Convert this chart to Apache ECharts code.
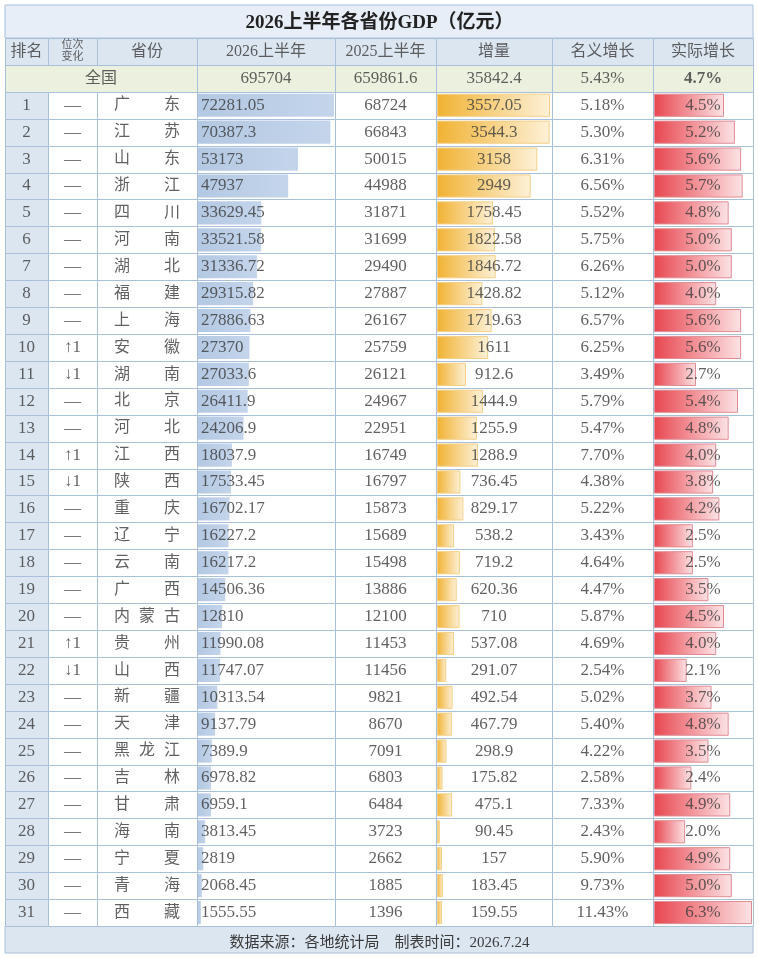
<!DOCTYPE html>
<html>
<head>
<meta charset="utf-8">
<title>2026上半年各省份GDP（亿元）</title>
<script src="https://cdn.jsdelivr.net/npm/echarts@6/dist/echarts.min.js"></script>
<style>
    html, body { margin: 0; padding: 0; background: #fff; }
    #main { width: 759px; height: 959px; }
</style>
</head>
<body>
<div id="main"></div>
<script>
    // ---- 数据 ----
    var headers = ['排名', '位次\n变化', '省份', '2026上半年', '2025上半年', '增量', '名义增长', '实际增长'];
    var ranks = [1, 2, 3, 4, 5, 6, 7, 8, 9, 10, 11, 12, 13, 14, 15, 16, 17, 18, 19, 20, 21, 22, 23, 24, 25, 26, 27, 28, 29, 30, 31];
    var changes = ['—', '—', '—', '—', '—', '—', '—', '—', '—', '↑1', '↓1', '—', '—', '↑1', '↓1', '—',
        '—', '—', '—', '—', '↑1', '↓1', '—', '—', '—', '—', '—', '—', '—', '—', '—'];
    var provinces = ['广东', '江苏', '山东', '浙江', '四川', '河南', '湖北', '福建', '上海', '安徽', '湖南', '北京',
        '河北', '江西', '陕西', '重庆', '辽宁', '云南', '广西', '内蒙古', '贵州', '山西', '新疆', '天津',
        '黑龙江', '吉林', '甘肃', '海南', '宁夏', '青海', '西藏'];
    var gdp2026 = [72281.05, 70387.3, 53173, 47937, 33629.45, 33521.58, 31336.72, 29315.82, 27886.63, 27370,
        27033.6, 26411.9, 24206.9, 18037.9, 17533.45, 16702.17, 16227.2, 16217.2, 14506.36, 12810, 11990.08,
        11747.07, 10313.54, 9137.79, 7389.9, 6978.82, 6959.1, 3813.45, 2819, 2068.45, 1555.55];
    var gdp2025 = [68724, 66843, 50015, 44988, 31871, 31699, 29490, 27887, 26167, 25759, 26121, 24967, 22951,
        16749, 16797, 15873, 15689, 15498, 13886, 12100, 11453, 11456, 9821, 8670, 7091, 6803, 6484, 3723,
        2662, 1885, 1396];
    var increase = [3557.05, 3544.3, 3158, 2949, 1758.45, 1822.58, 1846.72, 1428.82, 1719.63, 1611, 912.6,
        1444.9, 1255.9, 1288.9, 736.45, 829.17, 538.2, 719.2, 620.36, 710, 537.08, 291.07, 492.54, 467.79,
        298.9, 175.82, 475.1, 90.45, 157, 183.45, 159.55];
    var nominalGrowth = [5.18, 5.30, 6.31, 6.56, 5.52, 5.75, 6.26, 5.12, 6.57, 6.25, 3.49, 5.79, 5.47, 7.70,
        4.38, 5.22, 3.43, 4.64, 4.47, 5.87, 4.69, 2.54, 5.02, 5.40, 4.22, 2.58, 7.33, 2.43, 5.90, 9.73, 11.43];
    var realGrowth = [4.5, 5.2, 5.6, 5.7, 4.8, 5.0, 5.0, 4.0, 5.6, 5.6, 2.7, 5.4, 4.8, 4.0, 3.8, 4.2, 2.5, 2.5,
        3.5, 4.5, 4.0, 2.1, 3.7, 4.8, 3.5, 2.4, 4.9, 2.0, 4.9, 5.0, 6.3];
    var nationLabel = '全国';
    var nationValues = [695704, 659861.6, 35842.4, 5.43, 4.7];

    // ---- 版式 ----
    var FONT = '"Liberation Serif", "Noto Sans CJK SC", serif';
    var LINE = '#a9c0db';
    var TXT = '#3a3a3a';
    var colEdges = [0, 43, 92, 192, 330, 431, 547, 648, 748]; // 相对表格左边 5px
    var fills = ['#ffffff', '#dce6f1', '#ebf1de'];
    var rowKeys = ['header', 'nation'].concat(ranks.map(String));
    var T_TOP = 38, T_H = 888;

    function center(c) { return (colEdges[c] + colEdges[c + 1]) / 2; }

    // 单元格
    var cells = [];
    rowKeys.forEach(function (k, r) {
        if (r === 1) {
            cells.push([colEdges[0], colEdges[3], r, 2]);
            for (var c = 3; c < 8; c++) cells.push([colEdges[c], colEdges[c + 1], r, 2]);
        } else {
            for (var c2 = 0; c2 < 8; c2++) {
                cells.push([colEdges[c2], colEdges[c2 + 1], r, (r === 0 || c2 === 0) ? 1 : 0]);
            }
        }
    });

    // 文字
    var texts = [];
    function addText(x, r, s, extra) {
        var it = { value: [x, r], name: String(s) };
        if (extra) it.label = extra;
        texts.push(it);
    }
    headers.forEach(function (h, c) {
        addText(center(c), 0, h, c === 1 ? { fontSize: 11, lineHeight: 12 } : { fontSize: 16 });
    });
    addText((colEdges[0] + colEdges[3]) / 2, 1, nationLabel, { fontSize: 16 });
    nationValues.forEach(function (v, i) {
        var s = i === 3 ? v.toFixed(2) + '%' : (i === 4 ? v.toFixed(1) + '%' : v);
        addText(center(i + 3), 1, s, i === 4 ? { fontWeight: 'bold' } : null);
    });
    ranks.forEach(function (rk, i) {
        var r = i + 2;
        addText(center(0), r, rk);
        addText(center(1), r, changes[i]);
        var chars = provinces[i].split('');
        var pos = chars.length === 2 ? [0.25, 0.75] : [0.25, 0.5, 0.75];
        chars.forEach(function (ch, j) {
            addText(colEdges[2] + (colEdges[3] - colEdges[2]) * pos[j], r, ch, { fontSize: 16 });
        });
        addText(colEdges[3] + 4, r, gdp2026[i], { align: 'left' });
        addText(center(4), r, gdp2025[i]);
        addText(center(5), r, increase[i]);
        addText(center(6), r, nominalGrowth[i].toFixed(2) + '%');
        addText(center(7), r, realGrowth[i].toFixed(1) + '%');
    });

    function pad(arr) { return ['-', '-'].concat(arr); }
    function hGrad(a, b) {
        return new echarts.graphic.LinearGradient(0, 0, 1, 0, [{ offset: 0, color: a }, { offset: 1, color: b }]);
    }
    function catAxis(g) {
        return { type: 'category', gridIndex: g, data: rowKeys, inverse: true, show: false };
    }
    function valAxis(g, max) {
        return { type: 'value', gridIndex: g, min: 0, max: max, show: false };
    }

    var myChart = echarts.init(document.getElementById('main'));

    myChart.setOption({
        animation: false,
        title: [{
            text: '2026上半年各省份GDP（亿元）',
            left: 'center', top: 9,
            textStyle: { fontFamily: FONT, fontSize: 19, fontWeight: 'bold', color: '#222' }
        }, {
            text: '数据来源：各地统计局    制表时间：2026.7.24',
            left: 'center', top: 931,
            textStyle: { fontFamily: FONT, fontSize: 15, fontWeight: 'normal', color: TXT }
        }],
        graphic: [{
            type: 'rect', z: 0,
            shape: { x: 5, y: 5, width: 748, height: 33 },
            style: { fill: '#e8eef7', stroke: LINE, lineWidth: 1 }
        }, {
            type: 'rect', z: 0,
            shape: { x: 5, y: 926, width: 748, height: 27 },
            style: { fill: '#dce6f1', stroke: LINE, lineWidth: 1 }
        }],
        grid: [
            { left: 5, top: T_TOP, width: 748, height: T_H },
            { left: 198, top: T_TOP, width: 136, height: T_H },
            { left: 437, top: T_TOP, width: 113, height: T_H },
            { left: 654, top: T_TOP, width: 98, height: T_H }
        ],
        xAxis: [
            valAxis(0, 748),
            valAxis(1, Math.max.apply(null, gdp2026)),
            valAxis(2, Math.max.apply(null, increase)),
            valAxis(3, Math.max.apply(null, realGrowth))
        ],
        yAxis: [catAxis(0), catAxis(1), catAxis(2), catAxis(3)],
        series: [{
            name: 'cells', type: 'custom', xAxisIndex: 0, yAxisIndex: 0, z: 1, silent: true,
            data: cells,
            encode: { x: [0, 1], y: 2 },
            renderItem: function (params, api) {
                var p0 = api.coord([api.value(0), api.value(2)]);
                var p1 = api.coord([api.value(1), api.value(2)]);
                var h = api.size([0, 1])[1];
                return {
                    type: 'rect',
                    shape: { x: Math.round(p0[0]) + 0.5, y: Math.round(p0[1] - h / 2) + 0.5,
                        width: Math.round(p1[0] - p0[0]), height: Math.round(h) },
                    style: { fill: fills[api.value(3)], stroke: LINE, lineWidth: 1 }
                };
            }
        }, {
            name: '2026上半年', type: 'bar', xAxisIndex: 1, yAxisIndex: 1, z: 2,
            data: pad(gdp2026), barCategoryGap: '14%',
            itemStyle: { color: hGrad('#b3c8e2', '#c4d5eb') }
        }, {
            name: '增量', type: 'bar', xAxisIndex: 2, yAxisIndex: 2, z: 2,
            data: pad(increase), barCategoryGap: '14%',
            itemStyle: { color: hGrad('#f1b233', '#fdf1d8'), borderColor: '#f3cf86', borderWidth: 1 }
        }, {
            name: '实际增长', type: 'bar', xAxisIndex: 3, yAxisIndex: 3, z: 2,
            data: pad(realGrowth), barCategoryGap: '14%',
            itemStyle: { color: hGrad('#e8464f', '#fce3e5'), borderColor: '#de8c96', borderWidth: 1 }
        }, {
            name: 'texts', type: 'scatter', xAxisIndex: 0, yAxisIndex: 0, z: 5, silent: true,
            symbolSize: 1, itemStyle: { color: 'rgba(0,0,0,0)' },
            data: texts,
            label: {
                show: true, position: 'inside', formatter: '{b}',
                fontFamily: FONT, fontSize: 17, color: TXT
            }
        }]
    });

    window.addEventListener('resize', function () {
        myChart.resize();
    });
</script>
</body>
</html>
